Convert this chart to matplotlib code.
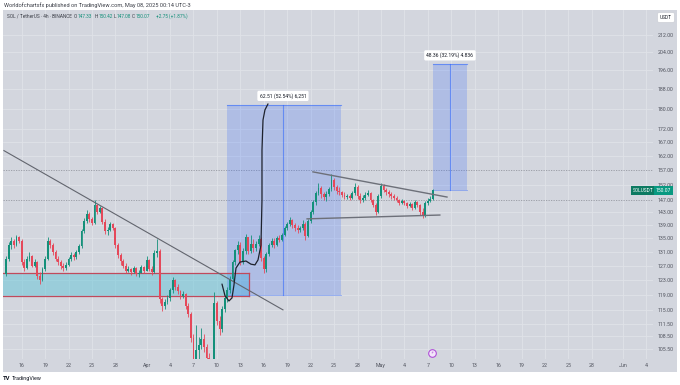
import numpy as np
import pandas as pd
import matplotlib
matplotlib.use("Agg")
import matplotlib.pyplot as plt
import matplotlib.dates as mdates
import matplotlib.transforms as mtransforms
from matplotlib.patches import Rectangle
from matplotlib.ticker import FixedLocator, NullLocator

plt.rcParams["font.family"] = ["Roboto", "DejaVu Sans"]

# SOL/USDT candles (8h)
first_open = 124.6
closes = [
    129.0, 133.0, 134.0, 133.0, 135.3, 134.2, 128.0, 126.4, 129.0,  # Mar 14-16
    129.6, 127.0, 128.0, 124.2, 123.0, 126.0, 129.0, 134.2, 133.0,  # Mar 17-19
    131.0, 129.0, 128.0, 127.0, 126.2, 127.2, 129.0, 130.0, 129.4,  # Mar 20-22
    131.0, 132.6, 137.0, 140.2, 142.5, 141.0, 139.6, 145.2, 143.2,  # Mar 23-25
    144.2, 140.0, 137.0, 137.4, 139.2, 138.2, 133.0, 130.0, 128.2,  # Mar 26-28
    127.0, 125.6, 126.0, 125.2, 126.2, 124.6, 125.0, 126.6, 125.6,  # Mar 29-31
    128.6, 126.0, 125.2, 130.6, 131.2, 118.0, 116.2, 117.2, 118.2,  # Apr 1-3
    120.2, 123.0, 121.0, 120.0, 118.6, 119.2, 116.2, 114.0, 108.2,  # Apr 4-6
    100.5, 105.4, 106.4, 108.0, 106.0, 103.4, 101.0, 99.6, 117.0,   # Apr 7-9
    112.2, 110.4, 115.2, 118.2, 120.4, 123.2, 128.0, 131.4, 133.0,  # Apr 10-12
    128.0, 131.2, 135.2, 131.2, 133.2, 132.2, 133.2, 134.6, 129.2,  # Apr 13-15
    126.0, 130.2, 133.0, 134.2, 133.0, 135.0, 134.4, 136.0, 138.2,  # Apr 16-18
    139.2, 140.6, 139.0, 138.2, 137.4, 138.2, 139.2, 135.6, 140.2,  # Apr 19-21
    143.0, 146.2, 149.2, 151.0, 149.0, 148.0, 149.0, 150.6, 153.6,  # Apr 22-24
    151.2, 150.0, 149.4, 148.6, 148.0, 148.2, 147.6, 149.2, 151.2,  # Apr 25-27
    148.2, 147.0, 147.6, 148.6, 149.2, 147.0, 145.2, 143.0, 148.2,  # Apr 28-30
    151.6, 150.2, 149.6, 149.0, 148.2, 147.6, 147.0, 146.0, 146.6,  # May 1-3
    146.0, 145.0, 145.6, 144.4, 146.2, 145.2, 143.2, 142.0, 146.0,  # May 4-6
    146.6, 147.33, 150.07,                                          # May 7
]
highs = [
    129.8, 133.8, 135.2, 134.8, 136.0, 135.6, 134.6, 128.9, 129.6,
    130.8, 130.0, 128.9, 128.3, 125.2, 126.6, 129.6, 135.3, 134.6,
    133.5, 131.6, 129.8, 128.5, 127.6, 127.9, 129.4, 130.8, 130.6,
    131.5, 133.2, 137.8, 141.2, 143.6, 143.0, 141.6, 146.8, 145.7,
    145.0, 144.6, 140.8, 138.3, 139.9, 139.5, 138.4, 133.6, 130.6,
    128.8, 127.6, 126.8, 126.4, 127.0, 126.6, 125.7, 127.2, 127.0,
    129.6, 128.9, 126.8, 131.4, 134.8, 131.8, 118.5, 118.0, 119.0,
    120.9, 123.9, 123.2, 121.8, 120.4, 119.9, 119.6, 116.9, 114.6,
    109.0, 111.2, 108.4, 110.6, 109.2, 106.7, 104.6, 102.4, 119.8,
    117.4, 113.6, 116.0, 118.8, 121.2, 124.0, 128.6, 131.9, 134.2,
    133.9, 132.0, 136.3, 135.4, 135.8, 134.8, 134.0, 136.0, 135.2,
    129.8, 130.9, 133.6, 134.9, 135.0, 135.6, 135.8, 136.6, 138.8,
    140.0, 141.4, 141.0, 139.6, 138.9, 138.8, 140.6, 139.8, 140.8,
    143.6, 147.0, 149.8, 152.6, 151.6, 149.6, 149.8, 151.4, 155.6,
    154.2, 152.0, 151.2, 150.0, 149.4, 149.0, 148.8, 149.8, 152.6,
    151.8, 149.2, 148.6, 149.4, 150.2, 149.6, 147.4, 145.8, 148.8,
    152.6, 152.2, 150.9, 150.3, 149.6, 148.8, 148.2, 147.4, 147.2,
    147.0, 146.4, 146.2, 146.0, 146.8, 146.6, 145.6, 144.2, 146.6,
    147.6, 148.2, 150.42,
]
lows = [
    124.0, 128.2, 131.9, 132.0, 132.6, 133.4, 127.2, 125.6, 126.0,
    128.2, 126.5, 126.6, 123.4, 122.0, 122.8, 125.6, 128.6, 132.1,
    130.0, 128.2, 127.2, 126.0, 125.5, 125.8, 126.9, 128.4, 128.6,
    128.9, 130.4, 132.0, 136.5, 139.6, 139.9, 138.9, 139.2, 142.4,
    142.7, 139.2, 136.2, 136.0, 137.0, 137.5, 132.0, 129.2, 127.3,
    126.2, 124.8, 125.2, 124.4, 124.9, 124.2, 123.9, 124.8, 124.9,
    125.4, 125.5, 124.4, 124.9, 129.4, 116.8, 114.8, 115.4, 116.6,
    117.5, 119.6, 120.2, 119.2, 117.9, 118.2, 115.4, 113.2, 107.2,
    95.3, 97.8, 101.2, 105.6, 104.8, 102.6, 97.3, 96.2, 99.2,
    111.4, 108.8, 109.6, 114.6, 117.2, 119.6, 122.6, 127.2, 130.2,
    127.2, 127.4, 130.4, 130.4, 130.6, 131.0, 131.2, 132.6, 128.2,
    124.8, 125.3, 129.6, 132.4, 132.2, 132.6, 133.7, 134.0, 135.6,
    137.6, 138.8, 138.2, 137.0, 136.4, 136.8, 137.6, 134.4, 135.2,
    139.6, 142.4, 145.4, 148.6, 147.6, 146.8, 146.6, 148.2, 150.0,
    150.2, 148.8, 148.6, 147.8, 147.2, 147.4, 146.8, 147.2, 148.6,
    147.4, 145.9, 146.4, 147.0, 148.2, 146.4, 144.6, 142.0, 142.6,
    147.6, 149.4, 148.7, 148.0, 147.2, 146.8, 146.2, 145.2, 145.6,
    145.2, 144.2, 144.6, 143.6, 143.9, 144.6, 142.2, 141.2, 141.6,
    145.4, 146.2, 147.08,
]

# drawings on the chart
zone_top, zone_bottom, zone_end = 124.8, 118.6, "2025-04-14 02:00"
trend_dates = ["2025-03-13 17:30", "2025-04-18 11:00"]
trend_prices = [163.97, 115.1]
tri_upper_dates = ["2025-04-22 07:00", "2025-05-09 11:00"]
tri_upper_prices = [156.4, 147.9]
tri_lower_dates = ["2025-04-21 13:00", "2025-05-08 13:00"]
tri_lower_prices = [140.9, 142.1]
curve_april_days = [10.65, 11.03, 11.54, 11.93, 12.18, 12.44, 12.95, 13.72, 14.36,
                    14.87, 15.26, 15.64, 15.77, 15.77, 15.9, 16.15, 16.54]
curve_prices = [121.9, 118.8, 117.4, 118.2, 121.6, 126.3, 128.0, 128.3, 127.4,
                127.2, 128.6, 132.9, 146.9, 164.2, 175.5, 179.5, 181.9]
positions = [
    # entry, target, start, middle, end, label
    (118.98, 181.49, "2025-04-11 07:00", "2025-04-18 11:00", "2025-04-25 20:00", "62.51 (52.54%) 6,251"),
    (150.23, 198.59, "2025-05-07 16:00", "2025-05-09 20:00", "2025-05-12 00:00", "48.36 (32.19%) 4.836"),
]
dotted_levels = [157.0, 146.8]
price_ticks = [212, 204, 196, 188, 180, 172, 167, 162, 157, 152, 147, 143, 139,
               135, 131, 127, 123, 119, 115, 111.5, 108.5, 105.5]
time_ticks = ["2025-03-16", "2025-03-19", "2025-03-22", "2025-03-25", "2025-03-28",
              "2025-04-01", "2025-04-04", "2025-04-07", "2025-04-10", "2025-04-13",
              "2025-04-16", "2025-04-19", "2025-04-22", "2025-04-25", "2025-04-28",
              "2025-05-01", "2025-05-04", "2025-05-07", "2025-05-10", "2025-05-13",
              "2025-05-16", "2025-05-19", "2025-05-22", "2025-05-25", "2025-05-28",
              "2025-06-01", "2025-06-04"]
last_price = 150.07

BG = "#d3d6de"
GRID = "#e0e2e8"
UP, DOWN = "#14907a", "#e5485a"
BLUE = "#2962ff"
TXT = "#50535e"


def t(s):
    return mdates.date2num(pd.Timestamp(s))


def fx(px):
    return px / 680


def fy(py):
    return 1 - py / 385


fig = plt.figure(figsize=(6.8, 3.85), dpi=100)
fig.patch.set_facecolor("white")
fig.patches.append(Rectangle((fx(3), fy(372)), 674 / 680, 362 / 385,
                             transform=fig.transFigure, facecolor=BG, edgecolor="none", zorder=-1))
ax = fig.add_axes([fx(3), fy(359), 650 / 680, 349 / 385])
ax.set_zorder(1)
ax.set_facecolor("none")
ax.set_yscale("log")
ax.set_xlim(t("2025-03-13 14:40"), t("2025-06-04 20:00"))
ax.set_ylim(103.2, 224.1)

# grid
for p in price_ticks:
    if p in (157, 147):
        continue
    ax.axhline(p, color=GRID, lw=0.6, zorder=0.5)
for d in time_ticks:
    ax.axvline(t(d), color=GRID, lw=0.6, zorder=0.5)
for lvl in dotted_levels:
    ax.axhline(lvl, color="#9598a1", lw=0.6, ls=(0, (1.5, 1.5)), zorder=0.6)

# support zone
ax.fill_between([t("2025-03-10"), t(zone_end)], zone_bottom, zone_top,
                color="#6cc7d8", alpha=0.55, lw=0, zorder=1)
ax.plot([t("2025-03-10"), t(zone_end)], [zone_top, zone_top], color="#c04a5c", lw=0.9, zorder=1.5)
ax.plot([t("2025-03-10"), t(zone_end)], [zone_bottom, zone_bottom], color="#c04a5c", lw=0.9, zorder=1.5)
ax.plot([t(zone_end), t(zone_end)], [zone_bottom, zone_top], color="#c04a5c", lw=0.9, zorder=1.5)

# long position boxes
for entry, target, start, mid, end, label in positions:
    ax.fill_between([t(start), t(end)], entry, target, color=BLUE, alpha=0.21, lw=0, zorder=1.2)
    ax.plot([t(start), t(end)], [target, target], color=BLUE, alpha=0.55, lw=0.8, zorder=1.6)
    ax.plot([t(start), t(end)], [entry, entry], color=BLUE, alpha=0.45, lw=0.6, zorder=1.6)
    ax.plot([t(mid), t(mid)], [entry, target], color=BLUE, alpha=0.55, lw=0.8, zorder=1.6)
    ax.annotate(label, (t(mid), target), xytext=(0, 6.5), textcoords="offset points",
                ha="center", va="center", fontsize=3.6, color="#131722", zorder=6,
                bbox=dict(boxstyle="round,pad=0.45,rounding_size=0.3", fc="white", ec="none"))

# candles
x = mdates.date2num(pd.date_range("2025-03-14 00:00", periods=len(closes), freq="8h"))
c = np.array(closes)
o = np.array([first_open] + closes[:-1])
h = np.array(highs)
l = np.array(lows)
colors = np.where(c >= o, UP, DOWN)
ax.vlines(x, l, h, colors=colors, lw=0.6, zorder=3)
body_lo = np.minimum(o, c)
body_hi = np.maximum(np.maximum(o, c), body_lo * 1.002)
ax.bar(x, body_hi - body_lo, bottom=body_lo, width=0.24, color=colors, lw=0, zorder=3.2)

# trend lines and hand-drawn path
ax.plot([t(s) for s in trend_dates], trend_prices, color="#62656e", lw=0.8, zorder=4)
ax.plot([t(s) for s in tri_upper_dates], tri_upper_prices, color="#6d7079", lw=1.0, zorder=4)
ax.plot([t(s) for s in tri_lower_dates], tri_lower_prices, color="#6d7079", lw=1.0, zorder=4)
curve_x = [t("2025-04-01") + dd - 1 for dd in curve_april_days]
ax.plot(curve_x, curve_prices, color="#1e222d", lw=0.9, zorder=4.5, solid_capstyle="round")

# event marker at the bottom
mk = mtransforms.blended_transform_factory(ax.transData, ax.transAxes)
ax.plot([t("2025-05-07 13:00")], [0.017], transform=mk, marker="o", ms=5.5,
        mfc="#f3e6fa", mec="#b04fd8", mew=0.8, clip_on=False, zorder=6)
ax.text(t("2025-05-07 13:00"), 0.017, "⚡", transform=mk, ha="center", va="center",
        fontsize=3.2, color="#b04fd8", family="DejaVu Sans", zorder=7)

# axes
for s in ax.spines.values():
    s.set_visible(False)
ax.yaxis.tick_right()
ax.yaxis.set_major_locator(FixedLocator(price_ticks))
ax.yaxis.set_minor_locator(NullLocator())
ax.set_yticklabels([f"{p:.2f}" for p in price_ticks])
ax.set_xticks([t(d) for d in time_ticks])
ax.set_xticklabels([pd.Timestamp(d).strftime("%b") if pd.Timestamp(d).day == 1
                    else str(pd.Timestamp(d).day) for d in time_ticks])
ax.tick_params(axis="y", length=0, pad=3.6, labelsize=3.8, labelcolor=TXT)
ax.tick_params(axis="x", length=0, pad=3.0, labelsize=3.8, labelcolor=TXT)

# last price label
lbl = mtransforms.blended_transform_factory(ax.transAxes, ax.transData)
ax.text((633 - 3) / 650, last_price, "SOLUSDT", transform=lbl, ha="left", va="center",
        fontsize=3.4, color="white", zorder=8, clip_on=False,
        bbox=dict(boxstyle="square,pad=0.35", fc="#0d7a62", ec="none"))
ax.text((656 - 3) / 650, last_price, f"{last_price:.2f}", transform=lbl, ha="left", va="center",
        fontsize=3.6, color="white", zorder=8, clip_on=False,
        bbox=dict(boxstyle="square,pad=0.35", fc="#089981", ec="none"))

# header texts
fig.text(fx(4), fy(5.5), "Worldofchartsfx published on TradingView.com, May 08, 2025 00:14 UTC-3",
         fontsize=4.1, color="#3b3e47", va="center")
fig.text(fx(7), fy(16.5), "SOL / TetherUS · 4h · BINANCE", fontsize=3.4, color="#3b3e47", va="center")
legend_parts = [(74, "O", "#3b3e47"), (78, "147.33", UP), (95, "H", "#3b3e47"), (99, "150.42", UP),
                (114, "L", "#3b3e47"), (117, "147.08", UP), (132, "C", "#3b3e47"),
                (136, "150.07", UP), (156, "+2.75 (+1.87%)", UP)]
for px, s, col in legend_parts:
    fig.text(fx(px), fy(16.5), s, fontsize=3.4, color=col, va="center")
fig.text(fx(666), fy(17.5), "USDT", fontsize=3.4, color="#131722", ha="center", va="center",
         bbox=dict(boxstyle="round,pad=0.5,rounding_size=0.3", fc="white", ec="#c9ccd3", lw=0.4))
fig.text(fx(3), fy(378.5), "TV", fontsize=4.2, color="#131722", weight="bold", va="center")
fig.text(fx(12), fy(378.5), "TradingView", fontsize=3.9, color="#131722", va="center")

fig.savefig("out.png", dpi=100, facecolor="white")
